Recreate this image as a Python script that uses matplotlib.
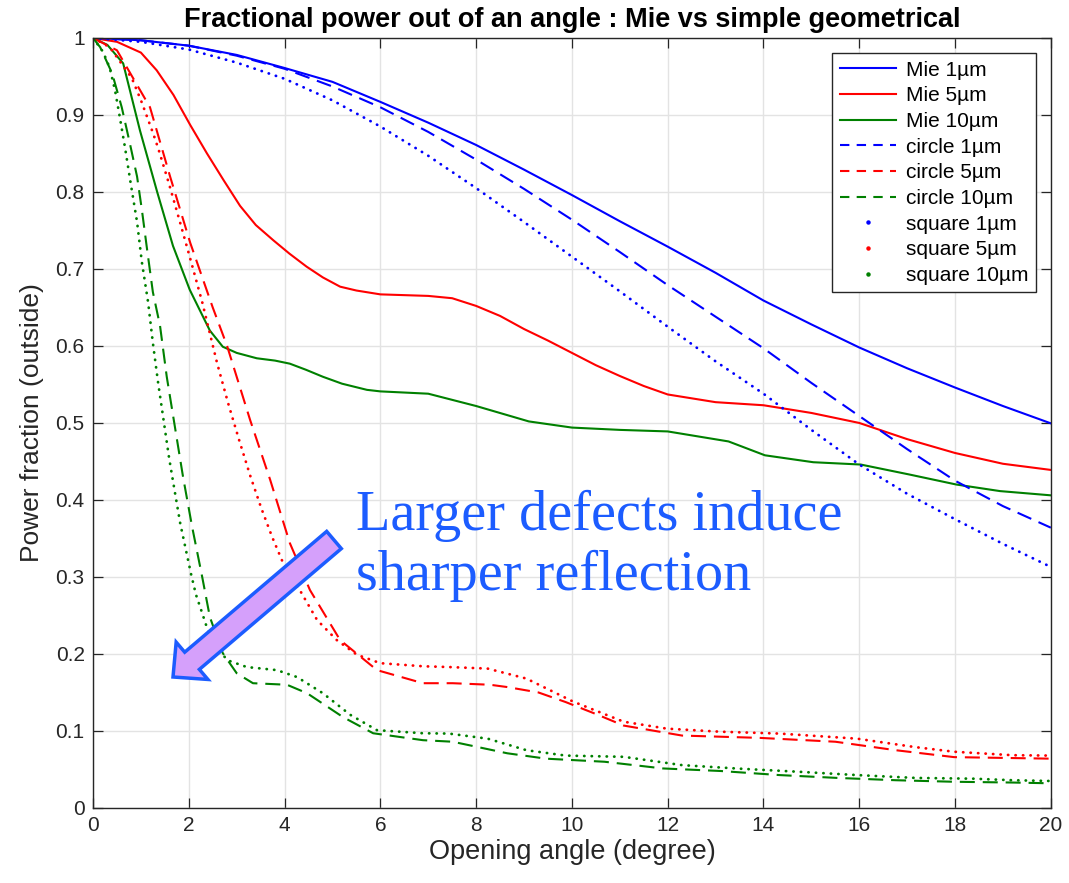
import matplotlib
matplotlib.use('Agg')
import matplotlib.pyplot as plt
from matplotlib.lines import Line2D
from matplotlib.patches import FancyArrow

plt.rcParams['font.family'] = ['Liberation Sans', 'DejaVu Sans']

# угол раскрытия (град) и доля мощности для каждой кривой
mie1_x = [0, 1, 2, 3, 4, 5, 6, 7, 8, 9, 10, 11, 12, 13, 14, 15, 16, 17, 18, 19, 20]
mie1_y = [1.0, 0.997, 0.99, 0.978, 0.961, 0.943, 0.917, 0.89, 0.861, 0.829, 0.796,
          0.762, 0.729, 0.695, 0.659, 0.628, 0.598, 0.571, 0.546, 0.522, 0.4995]

mie5_x = [0, 0.5, 1.0, 1.33, 1.68, 2.03, 2.38, 2.73, 3.07, 3.4, 3.77, 4.1, 4.46, 4.8,
          5.16, 5.5, 6, 7, 7.5, 8, 8.5, 9, 9.5, 10, 10.5, 11, 11.5, 12, 13, 14, 15,
          16, 17, 18, 19, 20]
mie5_y = [1.0, 0.995, 0.981, 0.958, 0.926, 0.887, 0.85, 0.815, 0.782, 0.757, 0.737,
          0.72, 0.703, 0.689, 0.677, 0.672, 0.667, 0.665, 0.662, 0.652, 0.639, 0.622,
          0.607, 0.591, 0.575, 0.561, 0.548, 0.537, 0.527, 0.523, 0.513, 0.5, 0.479,
          0.461, 0.447, 0.439]

mie10_x = [0, 0.3, 0.63, 0.98, 1.34, 1.67, 2.02, 2.44, 2.71, 3.0, 3.42, 3.8, 4.11,
           4.45, 4.8, 5.2, 5.72, 6, 7, 8, 9.1, 10, 11, 12, 13.27, 14.03, 15.04,
           16.03, 17.05, 18.03, 18.94, 20]
mie10_y = [1.0, 0.991, 0.967, 0.88, 0.80, 0.73, 0.673, 0.62, 0.599, 0.591, 0.584,
           0.581, 0.577, 0.569, 0.56, 0.551, 0.543, 0.541, 0.538, 0.522, 0.502,
           0.494, 0.491, 0.489, 0.476, 0.458, 0.449, 0.446, 0.433, 0.42, 0.4115,
           0.406]

circ1_x = [0, 1, 2, 3, 4, 5, 6, 7, 8, 9, 10, 11, 12, 13, 14, 15, 16, 17, 18, 19, 20]
circ1_y = [1.0, 0.997, 0.99, 0.977, 0.96, 0.937, 0.91, 0.878, 0.842, 0.804, 0.764,
           0.722, 0.679, 0.638, 0.597, 0.552, 0.509, 0.466, 0.425, 0.392, 0.364]

circ5_x = [0, 0.5, 1.19, 1.61, 2.03, 2.5, 2.8, 3.28, 3.7, 4.11, 4.53, 5.16, 5.93,
           6.89, 7.51, 8.29, 8.65, 9.3, 9.87, 10.5, 11.08, 12.3, 13.92, 15.5, 16.76,
           17.98, 20]
circ5_y = [1.0, 0.984, 0.91, 0.82, 0.734, 0.65, 0.6, 0.504, 0.426, 0.344, 0.283,
           0.218, 0.179, 0.162, 0.162, 0.16, 0.157, 0.15, 0.1375, 0.122, 0.107,
           0.094, 0.091, 0.086, 0.075, 0.066, 0.064]

circ10_x = [0, 0.15, 0.4, 0.6, 0.77, 0.92, 1.02, 1.13, 1.25, 1.4, 1.54, 1.71, 1.88,
            2.07, 2.28, 2.44, 2.71, 3.0, 3.34, 4.05, 4.47, 5.22, 5.85, 6.89, 7.51,
            8.65, 9.46, 10.68, 11.9, 13.1, 14.33, 15.54, 16.76, 17.98, 19.2, 20]
circ10_y = [1.0, 0.988, 0.954, 0.91, 0.863, 0.82, 0.777, 0.725, 0.67, 0.626, 0.56,
            0.495, 0.43, 0.365, 0.3, 0.248, 0.201, 0.175, 0.162, 0.16, 0.149, 0.118,
            0.097, 0.088, 0.086, 0.071, 0.064, 0.06, 0.0513, 0.048, 0.0427, 0.039,
            0.036, 0.034, 0.033, 0.032]

sq1_x = [0, 1, 2, 3, 4, 5, 6, 7, 8, 9, 10, 11, 12, 13, 14, 15, 16, 17, 18, 19, 20]
sq1_y = [1.0, 0.995, 0.985, 0.968, 0.947, 0.919, 0.885, 0.847, 0.805, 0.761, 0.716,
         0.671, 0.625, 0.58, 0.538, 0.491, 0.446, 0.408, 0.375, 0.343, 0.313]

sq5_x = [0, 0.35, 0.81, 1.02, 1.25, 1.36, 1.59, 1.82, 2.05, 2.28, 2.59, 2.82, 3.05,
         3.28, 3.51, 3.74, 3.97, 4.28, 4.68, 5.09, 5.51, 6.0, 6.89, 7.43, 8.24,
         9.05, 10.03, 11.08, 11.98, 13.1, 14.33, 15.95, 17.17, 17.98, 19.2, 20]
sq5_y = [1.0, 0.988, 0.948, 0.916, 0.877, 0.857, 0.81, 0.76, 0.709, 0.657, 0.578,
         0.526, 0.478, 0.432, 0.39, 0.352, 0.318, 0.287, 0.244, 0.218, 0.199, 0.188,
         0.184, 0.183, 0.181, 0.168, 0.138, 0.112, 0.103, 0.099, 0.0966, 0.09,
         0.079, 0.073, 0.0685, 0.068]

sq10_x = [0, 0.21, 0.35, 0.46, 0.56, 0.67, 0.79, 0.92, 1.02, 1.15, 1.25, 1.36, 1.48,
          1.59, 1.71, 1.82, 1.94, 2.05, 2.15, 2.28, 2.38, 2.59, 2.8, 3.21, 3.84,
          4.26, 4.8, 5.37, 5.93, 6.89, 7.43, 8.24, 9.05, 9.87, 11.08, 12.3, 13.5,
          14.73, 15.95, 17.17, 18.38, 19.2, 20]
sq10_y = [1.0, 0.982, 0.961, 0.932, 0.897, 0.857, 0.81, 0.761, 0.709, 0.657, 0.604,
          0.552, 0.501, 0.454, 0.41, 0.37, 0.335, 0.303, 0.277, 0.253, 0.234, 0.209,
          0.192, 0.183, 0.179, 0.17, 0.149, 0.121, 0.101, 0.097, 0.0966, 0.09,
          0.075, 0.068, 0.0664, 0.0556, 0.051, 0.047, 0.0427, 0.039, 0.038, 0.036,
          0.035]

x_ticks = [0, 2, 4, 6, 8, 10, 12, 14, 16, 18, 20]
y_ticks = [0, 0.1, 0.2, 0.3, 0.4, 0.5, 0.6, 0.7, 0.8, 0.9, 1]
y_ticklabels = ['0', '0.1', '0.2', '0.3', '0.4', '0.5', '0.6', '0.7', '0.8', '0.9', '1']

BLUE, RED, GREEN = '#0000ff', '#ff0000', '#008000'

fig = plt.figure(figsize=(10.69, 8.83), dpi=100)
ax = fig.add_axes([0.087, 0.085, 0.896, 0.872])

lw = 1.5
dash = (7.2, 3.8)
dot = (0.1, 2.6)

# Mie
ax.plot(mie1_x, mie1_y, color=BLUE, lw=lw)
ax.plot(mie5_x, mie5_y, color=RED, lw=lw)
ax.plot(mie10_x, mie10_y, color=GREEN, lw=lw)
# круг
ax.plot(circ1_x, circ1_y, color=BLUE, lw=lw, dashes=dash)
ax.plot(circ5_x, circ5_y, color=RED, lw=lw, dashes=dash)
ax.plot(circ10_x, circ10_y, color=GREEN, lw=lw, dashes=dash)
# квадрат
for xs, ys, c in [(sq1_x, sq1_y, BLUE), (sq5_x, sq5_y, RED), (sq10_x, sq10_y, GREEN)]:
    ax.plot(xs, ys, color=c, lw=2.0, dashes=dot, dash_capstyle='round')

ax.set_xlim(0, 20)
ax.set_ylim(0, 1)
ax.set_xticks(x_ticks)
ax.set_yticks(y_ticks)
ax.set_yticklabels(y_ticklabels)
ax.grid(True, color='#e3e3e3', lw=1.0)
ax.set_axisbelow(True)
ax.tick_params(direction='in', length=7, width=0.9, top=True, right=True,
               colors='#262626', labelsize=15, pad=6)
for s in ax.spines.values():
    s.set_color('#262626')
    s.set_linewidth(1.0)

ax.set_xlabel('Opening angle (degree)', fontsize=19.5, color='#262626', labelpad=3)
ax.set_ylabel('Power fraction (outside)', fontsize=19, color='#262626', labelpad=8)
ax.set_title('Fractional power out of an angle : Mie vs simple geometrical',
             fontsize=19.5, fontweight='bold', pad=8)

# легенда: для пунктирных — одна точка, как в оригинале
handles = [
    Line2D([], [], color=BLUE, lw=lw),
    Line2D([], [], color=RED, lw=lw),
    Line2D([], [], color=GREEN, lw=lw),
    Line2D([], [], color=BLUE, lw=lw, dashes=(4.5, 3.5)),
    Line2D([], [], color=RED, lw=lw, dashes=(4.5, 3.5)),
    Line2D([], [], color=GREEN, lw=lw, dashes=(4.5, 3.5)),
    Line2D([], [], color=BLUE, ls='none', marker='o', markersize=2.2),
    Line2D([], [], color=RED, ls='none', marker='o', markersize=2.2),
    Line2D([], [], color=GREEN, ls='none', marker='o', markersize=2.2),
]
labels = ['Mie 1\u00b5m', 'Mie 5\u00b5m', 'Mie 10\u00b5m',
          'circle 1\u00b5m', 'circle 5\u00b5m', 'circle 10\u00b5m',
          'square 1\u00b5m', 'square 5\u00b5m', 'square 10\u00b5m']
leg = ax.legend(handles, labels, loc='upper right', fontsize=15, fancybox=False,
                framealpha=1, edgecolor='#262626', handlelength=2.7,
                labelspacing=0.32, borderpad=0.35, handletextpad=0.5,
                bbox_to_anchor=(0.9955, 0.9935))
leg.get_frame().set_linewidth(1.0)

# надпись и стрелка
fig.text(356 / 1069, 1 - 490 / 883, 'Larger defects induce\nsharper reflection',
         family=['Liberation Serif', 'DejaVu Serif'], fontsize=40.5, color='#1c5cff',
         va='top', ha='left', linespacing=1.2)
arrow = FancyArrow(3.34, 3.43, -1.61, -1.37, width=0.226, head_width=0.49,
                   head_length=0.25, length_includes_head=True,
                   transform=fig.dpi_scale_trans, facecolor='#d5a0fb',
                   edgecolor='#1c5cff', lw=2.5, zorder=5)
fig.patches.append(arrow)

fig.savefig('out.png', dpi=100, facecolor='white')
